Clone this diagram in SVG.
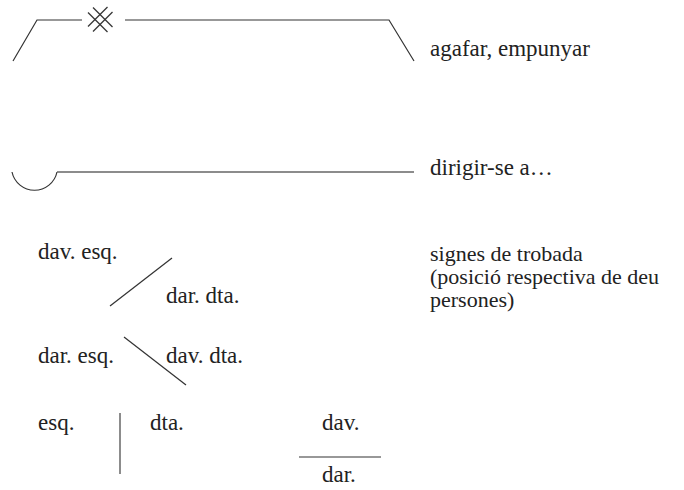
<svg xmlns="http://www.w3.org/2000/svg" width="684" height="490" viewBox="0 0 684 490">
<style>
text { font-family: 'Liberation Serif', 'Times New Roman', Times, 'DejaVu Serif', serif; font-size: 23px; fill: #222; }
.ln { stroke: #333; stroke-width: 1.2; fill: none; }
.gr { stroke: #666; stroke-width: 1.5; fill: none; }
.sm { font-size: 22px; }
</style>
<rect width="684" height="490" fill="#fff"/>
<g id="connectors">
  <g id="sign-agafar">
    <polyline class="ln" points="13,61 37,20 82,20"/>
    <polyline class="ln" points="125,20 389,20 414,61"/>
    <g id="cross" class="ln">
      <line x1="93" y1="7.5" x2="112.5" y2="27"/>
      <line x1="88" y1="12.5" x2="107.5" y2="32"/>
      <line x1="93" y1="31.5" x2="112.5" y2="12"/>
      <line x1="88" y1="26.5" x2="107.5" y2="7"/>
    </g>
  </g>
  <g id="sign-dirigir">
    <path class="ln" d="M12,172 A23,23 0 0 0 57,172"/>
    <line class="gr" x1="57" y1="172" x2="414" y2="172"/>
  </g>
  <g id="sign-trobada">
    <line class="ln" x1="110" y1="306" x2="172" y2="258"/>
    <line class="ln" x1="124" y1="337" x2="186" y2="385"/>
    <line class="gr" x1="120" y1="413" x2="120" y2="474"/>
    <line class="ln" x1="299" y1="457" x2="381" y2="457"/>
  </g>
</g>
<g id="labels">
  <text id="t-agafar" x="430" y="56">agafar, empunyar</text>
  <text id="t-dirigir" x="430" y="175">dirigir-se a…</text>
  <text id="t-signes1" class="sm" x="430" y="261">signes de trobada</text>
  <text id="t-signes2" class="sm" x="430" y="284">(posició respectiva de deu</text>
  <text id="t-signes3" class="sm" x="430" y="307">persones)</text>
  <text id="t-davesq" x="38" y="259">dav. esq.</text>
  <text id="t-dardta" x="166" y="303">dar. dta.</text>
  <text id="t-daresq" x="38" y="363">dar. esq.</text>
  <text id="t-davdta" x="166" y="363">dav. dta.</text>
  <text id="t-esq" x="38" y="430">esq.</text>
  <text id="t-dta" x="150" y="430">dta.</text>
  <text id="t-dav" x="322" y="430">dav.</text>
  <text id="t-dar" x="322" y="482">dar.</text>
</g>
</svg>
